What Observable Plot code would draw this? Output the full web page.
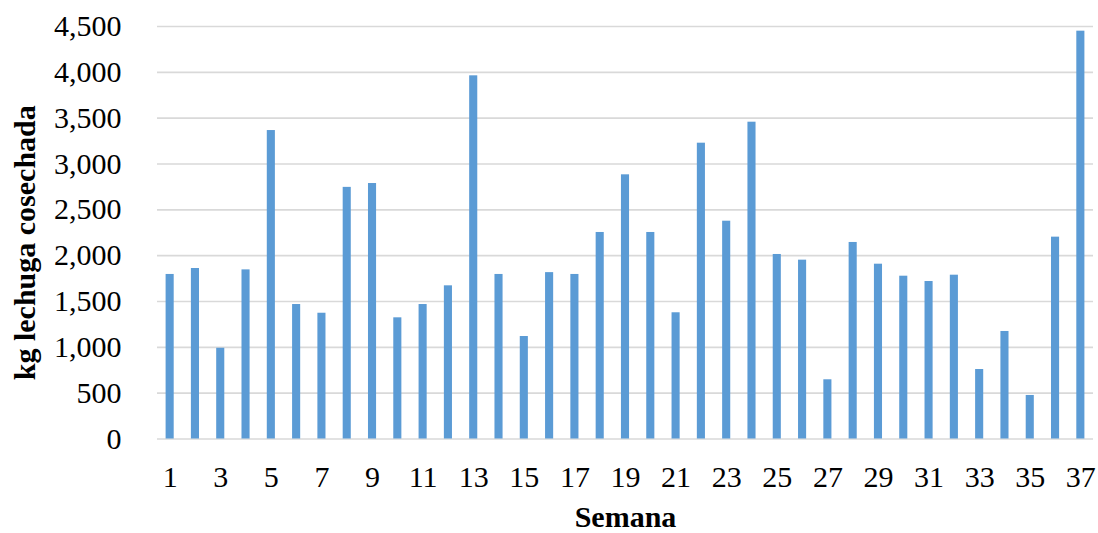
<!DOCTYPE html>
<html>
<head>
<meta charset="utf-8">
<script src="https://cdn.jsdelivr.net/npm/d3@7"></script>
<script src="https://cdn.jsdelivr.net/npm/@observablehq/plot@0.6"></script>
<style>
  html, body { margin: 0; padding: 0; background: #fff; }
  #chart svg { display: block; }
</style>
</head>
<body>
<div id="chart"></div>
<script>
const weeks = d3.range(1, 38);
const kg = [1795, 1860, 990, 1845, 3365, 1467, 1372, 2745, 2787, 1322,
            1467, 1671, 3962, 1795, 1118, 1815, 1795, 2253, 2882, 2253,
            1377, 3227, 2376, 3456, 2013, 1951, 646, 2144, 1907, 1776,
            1718, 1787, 758, 1173, 475, 2202, 4449];
const yTicks = d3.range(0, 4501, 500);
const xTickLabels = weeks.filter(w => w % 2 === 1);
const yTitle = "kg lechuga cosechada";
const xTitle = "Semana";

const data = weeks.map((w, i) => ({week: w, kg: kg[i]}));

const chart = Plot.plot({
  width: 1098,
  height: 533,
  marginLeft: 157,
  marginRight: 5,
  marginTop: 26,
  marginBottom: 94.5,
  style: {fontFamily: "'Liberation Serif', 'Times New Roman', serif", color: "#000", background: "#fff"},
  x: {type: "band", domain: weeks, paddingInner: 0.68, paddingOuter: 0.34, align: 0.5, round: false},
  y: {domain: [0, 4500]},
  marks: [
    Plot.gridY(yTicks, {stroke: "#D9D9D9", strokeOpacity: 1, strokeWidth: 1.6}),
    Plot.barY(data, {x: "week", y: "kg", fill: "#5B9BD5"}),
    Plot.axisY(yTicks, {tickSize: 0, tickPadding: 36, tickFormat: d3.format(","), fontSize: 30, label: null}),
    Plot.axisX(xTickLabels, {tickSize: 0, tickPadding: 27, fontSize: 30, label: null}),
    Plot.text([yTitle], {frameAnchor: "left", textAnchor: "middle", lineAnchor: "middle", rotate: -90, dx: -132, dy: 10, fontSize: 30, fontWeight: "bold", fill: "#000"}),
    Plot.text([xTitle], {frameAnchor: "bottom", textAnchor: "middle", lineAnchor: "middle", dy: 78, fontSize: 30, fontWeight: "bold", fill: "#000"})
  ]
});
document.getElementById("chart").appendChild(chart);
</script>
</body>
</html>
